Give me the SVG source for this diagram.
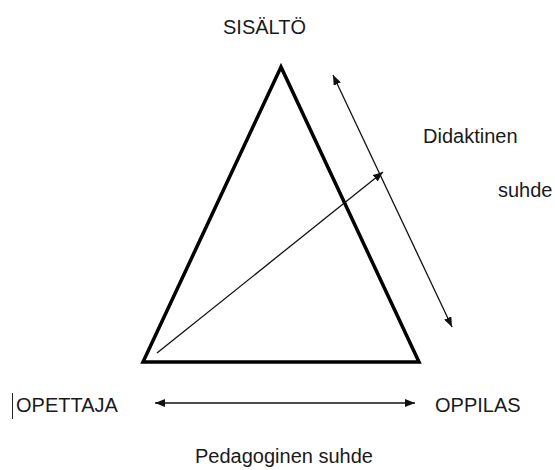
<svg xmlns="http://www.w3.org/2000/svg" width="555" height="470" viewBox="0 0 555 470">
<style>
text{font-family:"Liberation Sans",Arial,sans-serif;font-size:20px;fill:#1a1a1a}
.thin{stroke:#111;stroke-width:1.3;fill:none}
</style>
<defs>
<marker id="ah" viewBox="0 0 10 8" refX="10" refY="4" markerWidth="10" markerHeight="8" markerUnits="userSpaceOnUse" orient="auto-start-reverse">
<path d="M0,0 L10,4 L0,8 Z" fill="#111"/>
</marker>
</defs>
<rect width="555" height="470" fill="#fff"/>
<g id="triangle">
<polygon points="281,67 143,362 419,362" fill="none" stroke="#000" stroke-width="3.5" stroke-linejoin="miter"/>
</g>
<g id="sisalto"><text x="223" y="34">SISÄLTÖ</text></g>
<g id="opettaja"><line x1="12.5" y1="393" x2="12.5" y2="419" stroke="#222" stroke-width="1"/><text x="16" y="411.5">OPETTAJA</text></g>
<g id="oppilas"><text x="435" y="411.5">OPPILAS</text></g>
<g id="didaktinen"><text x="423" y="143">Didaktinen</text><text x="498" y="197">suhde</text></g>
<g id="pedagoginen"><text x="195" y="463">Pedagoginen suhde</text></g>
<g id="connectors">
<line class="thin" x1="157" y1="353" x2="383" y2="172" marker-end="url(#ah)"/>
<line class="thin" x1="333" y1="75" x2="452" y2="327" marker-start="url(#ah)" marker-end="url(#ah)"/>
<line class="thin" x1="155" y1="403" x2="415" y2="403" marker-start="url(#ah)" marker-end="url(#ah)"/>
</g>
</svg>
